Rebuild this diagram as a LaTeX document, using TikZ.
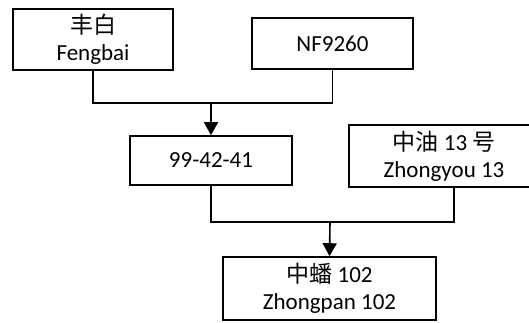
\documentclass[tikz,border=0pt]{standalone}
\usepackage{fontspec}
\setmainfont{Carlito}
\newfontfamily\cjk{Noto Sans CJK SC}
\usetikzlibrary{arrows.meta}

\begin{document}
\begin{tikzpicture}[x=1pt, y=-1pt,
		breed/.style={draw, line width=1.6pt, align=center, inner sep=0pt, font=\fontsize{23}{27}\selectfont},
		link/.style={line width=1.6pt},
		cross/.style={line width=1.6pt, -{Triangle[length=13pt, width=14pt]}}]
			%%%%% START %%%%%
			
			\useasboundingbox (0, 0) rectangle (529, 322);
			
			\node[breed, minimum width=160pt, minimum height=61pt] (fengbai) at (93, 39.5) {{\cjk 丰白}\\Fengbai};
			\node[breed, minimum width=161pt, minimum height=51pt] (nf) at (332.5, 43.5) {NF9260};
			
			\node[breed, minimum width=162pt, minimum height=49pt] (line) at (211, 160.5) {99-42-41};
			\node[breed, minimum width=190pt, minimum height=62pt] (zhongyou) at (444, 156) {{\cjk 中油} 13 {\cjk 号}\\Zhongyou 13};
			
			\node[breed, minimum width=213pt, minimum height=63pt] (zhongpan) at (329.5, 288.5) {{\cjk 中蟠} 102\\Zhongpan 102};
			
			\coordinate (join1) at (211, 103);
			\draw[link] (fengbai.south) |- (join1) -| (nf.south);
			\draw[cross] (join1) -- (line.north);
			
			\coordinate (join2) at (330, 222);
			\draw[link] (line.south) |- (join2) -| ([xshift=10pt]zhongyou.south);
			\draw[cross] (join2) -- (zhongpan.north);
			
			%%%%% END %%%%%
\end{tikzpicture}
\end{document}
